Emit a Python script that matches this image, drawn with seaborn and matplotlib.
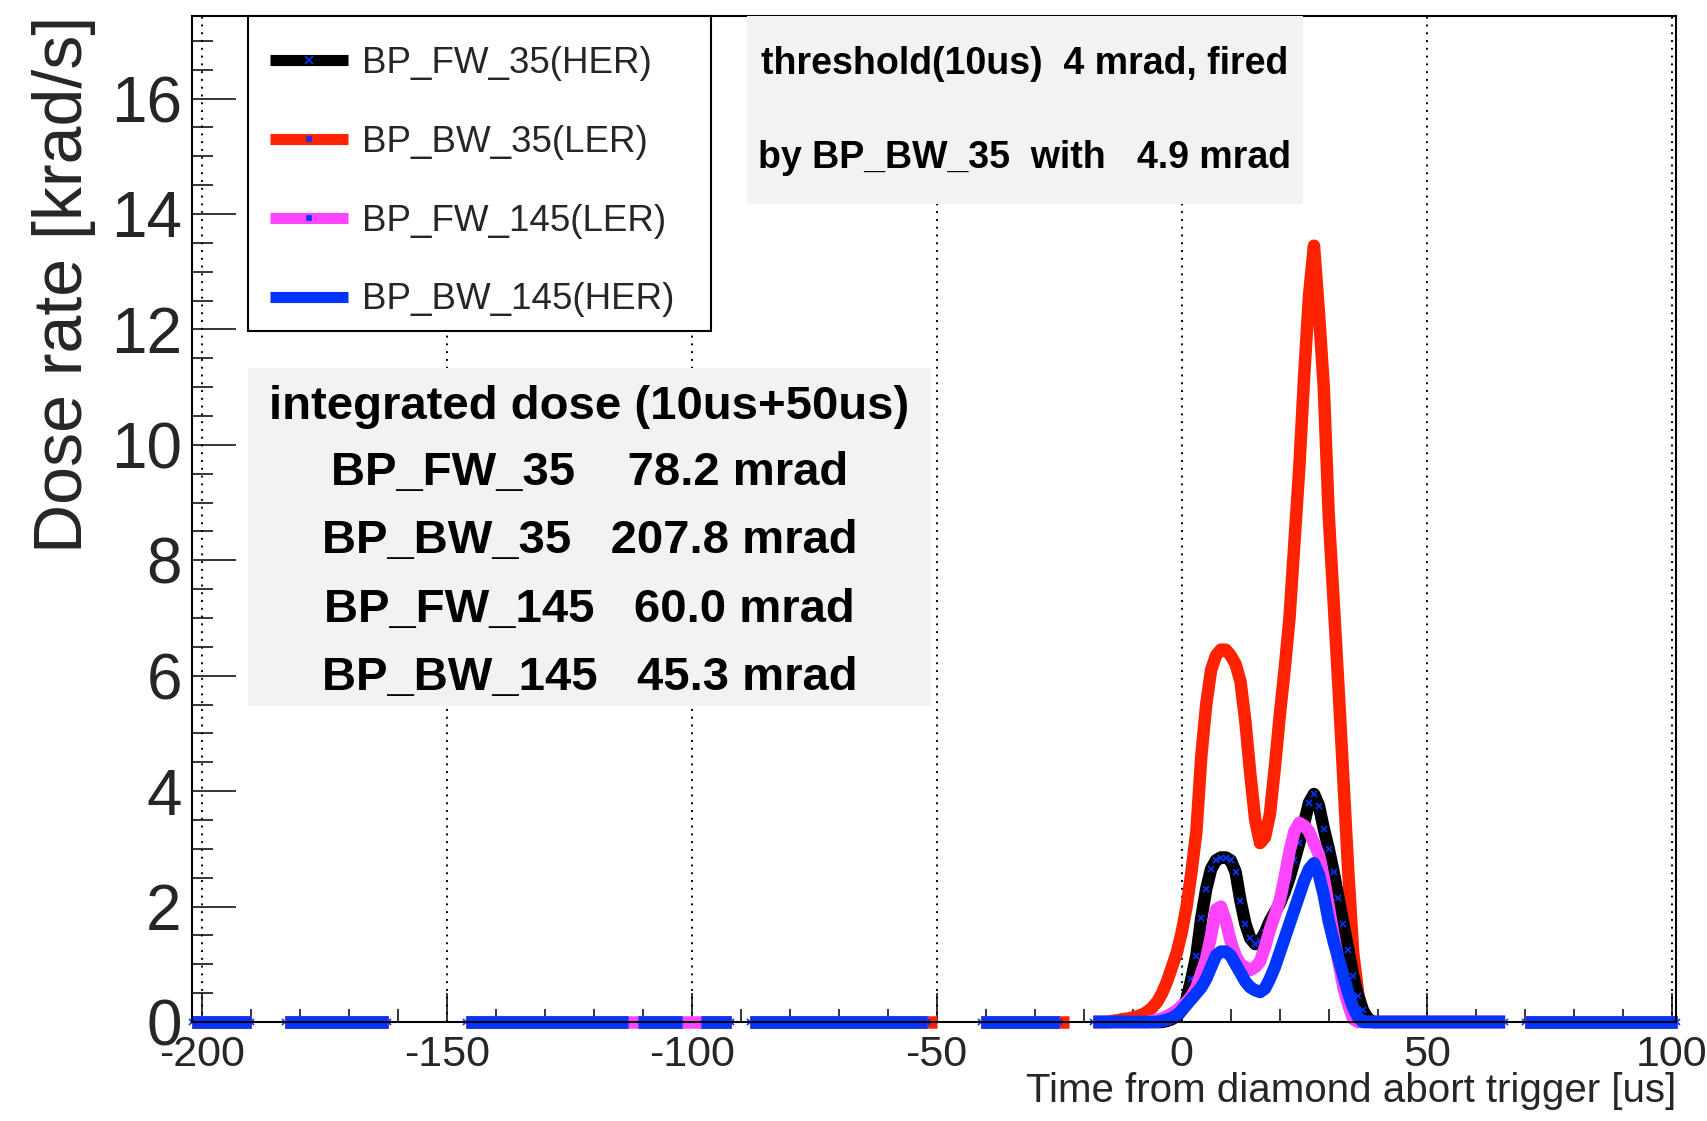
import numpy as np
import pandas as pd
import matplotlib
matplotlib.use("Agg")
import matplotlib.pyplot as plt
import seaborn as sns
from matplotlib.lines import Line2D
from matplotlib.patches import Rectangle
from matplotlib.ticker import MultipleLocator

# ---------------- data ----------------
time_first, time_last = -202, 101          # 1 us bins
peak_time = list(range(-15, 41))            # region with non-zero dose rate

bp_fw_35_her = [0, 0, 0, 0, 0, 0, 0, 0, 0, 0, 0, 0, 0.02, 0.05, 0.1, 0.2,
                0.4, 0.75, 1.15, 1.8, 2.3, 2.65, 2.8, 2.85, 2.85, 2.8, 2.6, 2.1,
                1.7, 1.45, 1.35, 1.4, 1.55, 1.75, 1.9, 2.05, 2.25, 2.5, 2.8, 3.1,
                3.45, 3.8, 3.95, 3.75, 3.35, 3.0, 2.6, 2.15, 1.7, 1.25, 0.8, 0.45,
                0.2, 0.06, 0, 0]
bp_bw_35_ler = [0, 0.02, 0.03, 0.05, 0.06, 0.08, 0.10, 0.13, 0.18, 0.25, 0.35,
                0.5, 0.7, 0.95, 1.2, 1.55, 2.0, 2.6, 3.3, 4.6, 5.5, 6.1, 6.35,
                6.45, 6.45, 6.35, 6.2, 5.9, 5.2, 4.3, 3.5, 3.1, 3.2, 3.6, 4.4,
                5.3, 6.1, 7.0, 8.3, 9.6, 11.2, 12.6, 13.45, 12.3, 11.0, 8.8, 7.3,
                5.8, 4.2, 2.6, 1.2, 0.5, 0.15, 0.03, 0, 0]
bp_fw_145_ler = [0, 0, 0, 0, 0, 0, 0, 0, 0, 0.02, 0.04, 0.06, 0.1, 0.15, 0.2,
                 0.28, 0.35, 0.45, 0.6, 0.85, 1.1, 1.5, 1.95, 2.0, 1.75, 1.4,
                 1.15, 1.0, 0.95, 0.9, 0.95, 1.05, 1.3, 1.6, 1.85, 2.1, 2.5, 2.95,
                 3.3, 3.45, 3.4, 3.3, 3.1, 2.9, 2.5, 2.0, 1.5, 1.05, 0.6, 0.3,
                 0.05, 0, 0, 0, 0, 0]
bp_bw_145_her = [0, 0, 0, 0, 0, 0, 0, 0, 0, 0, 0, 0.02, 0.04, 0.07, 0.12, 0.2,
                 0.3, 0.4, 0.5, 0.6, 0.75, 0.95, 1.15, 1.22, 1.22, 1.15, 1.0,
                 0.85, 0.7, 0.6, 0.55, 0.52, 0.58, 0.75, 0.95, 1.2, 1.45, 1.7,
                 1.95, 2.2, 2.45, 2.65, 2.75, 2.55, 2.2, 1.75, 1.4, 1.1, 0.8,
                 0.5, 0.25, 0.08, 0, 0, 0, 0]

# bins without data (inclusive ranges, us)
gaps_fw_35 = [(-189, -184), (-161, -147), (-112, -112), (-101, -99), (-91, -89),
              (-51, -42), (-24, -19), (67, 69)]
gaps_bw_35 = [(-189, -184), (-161, -147), (-112, -112), (-101, -99), (-91, -89),
              (-49, -42), (-22, -19), (67, 69)]
gaps_fw_145 = [(-189, -184), (-161, -147), (-91, -89), (-51, -42), (-24, -19),
               (67, 69)]
gaps_bw_145 = [(-189, -184), (-161, -147), (-112, -112), (-101, -99), (-91, -89),
               (-51, -42), (-24, -19), (67, 69)]

series_labels = ["BP_FW_35(HER)", "BP_BW_35(LER)", "BP_FW_145(LER)", "BP_BW_145(HER)"]
series_colors = ["black", "#ff2200", "#ff44ff", "#0035ff"]

threshold_lines = ["threshold(10us)  4 mrad, fired", "by BP_BW_35  with   4.9 mrad"]
dose_title = "integrated dose (10us+50us)"
dose_names = ["BP_FW_35", "BP_BW_35", "BP_FW_145", "BP_BW_145"]
dose_values = [78.2, 207.8, 60.0, 45.3]
dose_gaps = ["    ", "   ", "   ", "   "]

x_label = "Time from diamond abort trigger [us]"
y_label = "Dose rate [krad/s]"

# ---------------- build tables ----------------
time_all = np.arange(time_first, time_last + 1)


def build_series(peak_vals, gaps):
    v = np.zeros(len(time_all))
    for tt, val in zip(peak_time, peak_vals):
        v[tt - time_first] = val
    for a, b in gaps:
        v[(time_all >= a) & (time_all <= b)] = np.nan
    seg = np.cumsum(np.isnan(v))
    df = pd.DataFrame({"t": time_all, "v": v, "seg": seg}).dropna()
    return df


tables = [build_series(bp_bw_35_ler, gaps_bw_35),
          build_series(bp_fw_35_her, gaps_fw_35),
          build_series(bp_fw_145_ler, gaps_fw_145),
          build_series(bp_bw_145_her, gaps_bw_145)]
draw_colors = [series_colors[1], series_colors[0], series_colors[2], series_colors[3]]

# ---------------- style ----------------
sns.set_style("white")
plt.rcParams["font.family"] = ["Liberation Sans", "DejaVu Sans"]
plt.rcParams["axes.unicode_minus"] = False

fig = plt.figure(figsize=(17.07, 11.21), dpi=100)
ax = fig.add_axes([0.11224, 0.08831, 0.86977, 0.89741])

LW = 9.0
for df, col in zip(tables, draw_colors):
    kw = dict(color=col, linewidth=LW, solid_capstyle="butt", clip_on=False)
    if col == "black":
        kw.update(marker="x", markersize=5, markeredgecolor="#0035ff",
                  markeredgewidth=1.2)
    sns.lineplot(data=df, x="t", y="v", units="seg", estimator=None,
                 ax=ax, legend=False, **kw)

ax.set_xlim(-202.06, 100.94)
ax.set_ylim(0, 17.43)
ax.set_axisbelow(True)

for s in ["left", "right", "top", "bottom"]:
    ax.spines[s].set_visible(True)
    ax.spines[s].set_color("black")
    ax.spines[s].set_linewidth(1.5)

ax.xaxis.set_major_locator(MultipleLocator(50))
ax.xaxis.set_minor_locator(MultipleLocator(10))
ax.yaxis.set_major_locator(MultipleLocator(2))
ax.yaxis.set_minor_locator(MultipleLocator(0.5))
ax.tick_params(axis="x", which="major", direction="in", length=21, width=1.1,
               labelsize=31, pad=9, bottom=True, top=False, color="black")
ax.tick_params(axis="x", which="minor", direction="in", length=9.5, width=1.1,
               bottom=True, top=False, color="black")
ax.tick_params(axis="y", which="major", direction="in", length=32, width=1.1,
               labelsize=46, pad=7, left=True, right=False, color="black")
ax.tick_params(axis="y", which="minor", direction="in", length=15, width=1.1,
               left=True, right=False, color="black")
ax.set_xticks([-200, -150, -100, -50, 0, 50, 100])
ax.set_xticklabels(["-200", "-150", "-100", "-50", "0", "50", "100"])

ax.grid(axis="x", which="major", linestyle=(0, (1, 3)), color="black",
        linewidth=1.4)
ax.grid(axis="y", visible=False)

ax.set_xlabel(x_label, fontsize=29, loc="right")
ax.xaxis.label.set_verticalalignment("baseline")
ax.xaxis.set_label_coords(1.0, -0.0800)
ax.set_ylabel(y_label, fontsize=49, loc="top")
ax.yaxis.label.set_verticalalignment("baseline")
ax.yaxis.set_label_coords(-0.0738, 1.0)

# ---------------- legend ----------------
ax.add_patch(Rectangle((0.038, 0.6869), 0.3118, 0.3131, transform=ax.transAxes,
                       facecolor="white", edgecolor="black", linewidth=1.5,
                       zorder=5, clip_on=False))
marker_specs = [("x", 6), ("s", 2.5), ("s", 2.5), ("s", 2.5)]
handles = [Line2D([], [], color=c, lw=8, solid_capstyle="butt", marker=m,
                  markersize=ms, markerfacecolor="#0035ff",
                  markeredgecolor="#0035ff", markeredgewidth=1.2)
           for c, (m, ms) in zip(series_colors, marker_specs)]
leg = ax.legend(handles, series_labels, loc="upper left",
                bbox_to_anchor=(0.038, 0.9925), borderaxespad=0, frameon=False,
                fontsize=26.5, handlelength=2.1, handletextpad=0.38,
                labelspacing=1.19, borderpad=0.61)
leg.set_zorder(6)

# ---------------- text boxes ----------------
box_color = "#f2f2f2"
ax.add_patch(Rectangle((0.3741, 0.8131), 0.3745, 0.1869, transform=ax.transAxes,
                       facecolor=box_color, edgecolor="none", zorder=3))
for ty, line in zip([0.9523, 0.8590], threshold_lines):
    ax.text(0.5613, ty, line, transform=ax.transAxes, ha="center", va="center",
            fontsize=27, fontweight="bold", color="black", zorder=4)

ax.add_patch(Rectangle((0.0380, 0.3146), 0.4600, 0.3355, transform=ax.transAxes,
                       facecolor=box_color, edgecolor="none", zorder=3))
dose_lines = [dose_title] + [f"{n}{g}{v:.1f} mrad"
                             for n, g, v in zip(dose_names, dose_gaps, dose_values)]
for ty, line in zip([0.6110, 0.5460, 0.4780, 0.4100, 0.3415], dose_lines):
    ax.text(0.2680, ty, line, transform=ax.transAxes, ha="center", va="center",
            fontsize=34, fontweight="bold", color="black", zorder=4)

fig.savefig("out.png", dpi=100)
